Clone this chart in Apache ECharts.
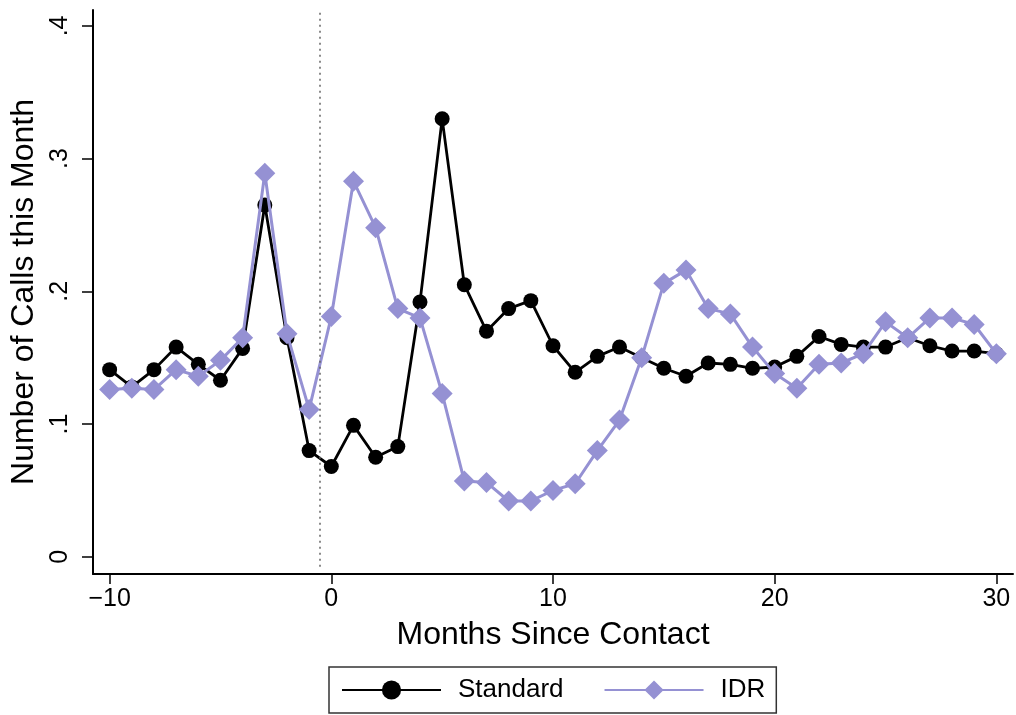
<!DOCTYPE html>
<html>
<head>
<meta charset="utf-8">
<script src="https://cdn.jsdelivr.net/npm/echarts@6/dist/echarts.min.js"></script>
<style>
  html, body { margin: 0; padding: 0; background: #ffffff; }
  #chart { width: 1016px; height: 715px; }
</style>
</head>
<body>
<div id="chart"></div>
<script>
// Months relative to first contact
const months = [];
for (let m = -10; m <= 30; m++) months.push(m);

// Average number of calls in each month
const standard = [
  0.141, 0.128, 0.141, 0.158, 0.145, 0.133, 0.157, 0.265, 0.165, 0.080,
  0.068, 0.099, 0.075, 0.083, 0.192, 0.330, 0.205, 0.170, 0.187, 0.193,
  0.159, 0.139, 0.151, 0.158, 0.150, 0.142, 0.136, 0.146, 0.145, 0.142,
  0.143, 0.151, 0.166, 0.160, 0.158, 0.158, 0.165, 0.159, 0.155, 0.155,
  0.153
];
const idr = [
  0.126, 0.127, 0.126, 0.141, 0.136, 0.148, 0.165, 0.289, 0.168, 0.111,
  0.181, 0.283, 0.248, 0.187, 0.180, 0.123, 0.057, 0.056, 0.042, 0.042,
  0.050, 0.055, 0.080, 0.103, 0.150, 0.206, 0.216, 0.187, 0.183, 0.158,
  0.138, 0.127, 0.145, 0.146, 0.153, 0.177, 0.165, 0.180, 0.180, 0.175,
  0.153
];

const xTicks = [-10, 0, 10, 20, 30];
const yTicks = [0, 0.1, 0.2, 0.3, 0.4];
const contactLine = -0.5;

const FONT = '"Liberation Sans", Arial, Helvetica, sans-serif';
const IDR_COLOR = '#9591d3';

const chart = echarts.init(document.getElementById('chart'), null, { renderer: 'canvas' });

chart.setOption({
  animation: false,
  backgroundColor: '#ffffff',
  textStyle: { fontFamily: FONT },
  grid: { left: 93, right: 3, top: 10, bottom: 141, outerBoundsMode: 'none' },
  legend: {
    left: 329,
    top: 667,
    orient: 'horizontal',
    itemWidth: 99,
    itemHeight: 24,
    itemGap: 40,
    padding: [10, 11, 10, 12],
    borderColor: '#333333',
    borderWidth: 1.5,
    borderRadius: 0,
    textStyle: { fontFamily: FONT, fontSize: 26, color: '#000', padding: [0, 0, 0, 12] },
    data: ['Standard', 'IDR']
  },
  xAxis: {
    type: 'value',
    min: -10.75,
    max: 30.75,
    name: 'Months Since Contact',
    nameLocation: 'middle',
    nameGap: 45,
    nameTextStyle: { fontFamily: FONT, fontSize: 32, color: '#000' },
    axisLine: { show: true, onZero: false, lineStyle: { color: '#000', width: 2 } },
    axisTick: { show: true, length: 10, customValues: xTicks, lineStyle: { color: '#000', width: 1.5 } },
    axisLabel: {
      customValues: xTicks,
      fontFamily: FONT, fontSize: 25, color: '#000', margin: 13,
      formatter: v => String(v).replace('-', '\u2212')
    },
    splitLine: { show: false }
  },
  yAxis: {
    type: 'value',
    min: -0.013,
    max: 0.412,
    name: 'Number of Calls this Month',
    nameLocation: 'middle',
    nameRotate: 90,
    nameGap: 49,
    nameTextStyle: { fontFamily: FONT, fontSize: 32, color: '#000' },
    axisLine: { show: true, onZero: false, lineStyle: { color: '#000', width: 2 } },
    axisTick: { show: true, length: 11, customValues: yTicks, lineStyle: { color: '#000', width: 1.5 } },
    axisLabel: {
      customValues: yTicks,
      rotate: 90,
      fontFamily: FONT, fontSize: 25, color: '#000', margin: 20,
      formatter: v => (v === 0 ? '0' : String(Math.round(v * 10) / 10).replace(/^0/, ''))
    },
    splitLine: { show: false }
  },
  series: [
    {
      name: 'Standard',
      type: 'line',
      data: months.map((m, i) => [m, standard[i]]),
      symbol: 'circle',
      symbolSize: 15,
      showAllSymbol: true,
      lineStyle: { color: '#000000', width: 2.8 },
      itemStyle: { color: '#000000' },
      z: 2,
      markLine: {
        silent: true,
        symbol: ['none', 'none'],
        label: { show: false },
        lineStyle: { color: '#666666', width: 1.5, type: [2, 4] },
        data: [[{ coord: [contactLine, 0.41] }, { coord: [contactLine, -0.008] }]]
      }
    },
    {
      name: 'IDR',
      type: 'line',
      data: months.map((m, i) => [m, idr[i]]),
      symbol: 'diamond',
      symbolSize: [21, 21],
      showAllSymbol: true,
      lineStyle: { color: IDR_COLOR, width: 3 },
      itemStyle: { color: IDR_COLOR },
      z: 3
    }
  ]
});
</script>
</body>
</html>
